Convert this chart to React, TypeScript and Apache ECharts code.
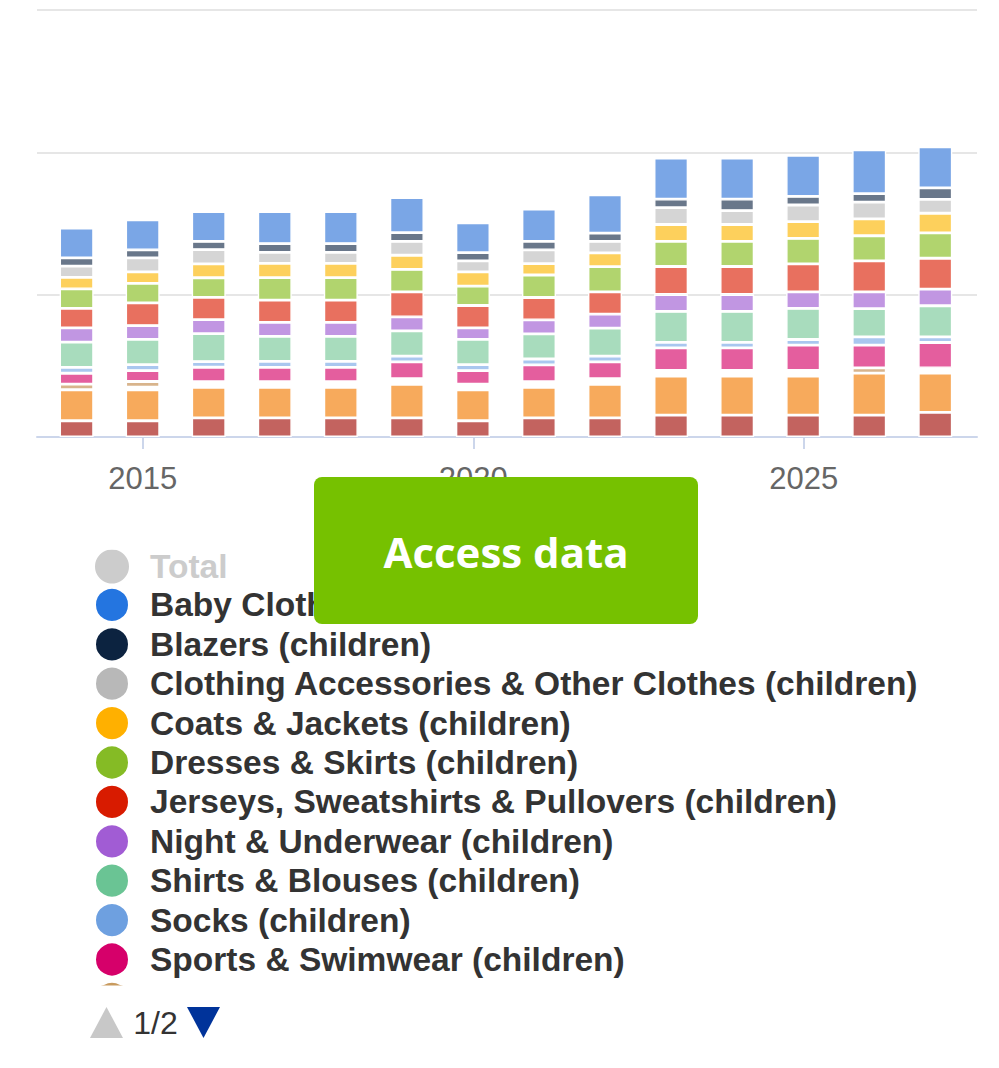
import React, { useEffect, useRef } from "react";
import * as echarts from "echarts";

const years = [2014, 2015, 2016, 2017, 2018, 2019, 2020, 2021, 2022, 2023, 2024, 2025, 2026, 2027];
const tickYears = [2015, 2020, 2025];

// Stacked segments, values (same unit as the hidden y axis)
const babyClothes = [2.08, 2.10, 2.10, 2.25, 2.25, 2.46, 2.10, 2.27, 2.68, 2.89, 2.89, 2.89, 3.08, 2.89];
const blazers = [0.59, 0.57, 0.57, 0.62, 0.62, 0.62, 0.57, 0.60, 0.59, 0.60, 0.80, 0.60, 0.60, 0.80];
const accessories = [0.78, 0.98, 1.00, 0.77, 0.77, 0.97, 0.78, 0.97, 0.80, 1.18, 0.98, 1.17, 1.18, 0.98];
const coats = [0.81, 0.81, 0.98, 1.00, 1.00, 1.00, 1.00, 0.80, 0.97, 1.18, 1.18, 1.18, 1.18, 1.38];
const dresses = [1.37, 1.37, 1.38, 1.58, 1.58, 1.57, 1.36, 1.58, 1.77, 1.77, 1.77, 1.78, 1.77, 1.78];
const jerseys = [1.38, 1.59, 1.57, 1.57, 1.57, 1.76, 1.58, 1.57, 1.57, 1.97, 1.97, 1.97, 2.18, 2.17];
const nightwear = [1.00, 0.97, 0.98, 0.98, 0.98, 0.98, 0.80, 0.98, 0.98, 1.19, 1.19, 1.17, 1.17, 1.17];
const shirts = [1.77, 1.78, 1.96, 1.76, 1.76, 1.78, 1.78, 1.77, 1.97, 2.17, 2.17, 2.18, 1.98, 2.18];
const socks = [0.41, 0.41, 0.40, 0.42, 0.42, 0.40, 0.41, 0.41, 0.40, 0.39, 0.39, 0.39, 0.59, 0.40];
const sports = [0.77, 0.77, 1.01, 1.00, 1.00, 1.18, 0.96, 1.18, 1.18, 1.58, 1.58, 1.78, 1.60, 1.78];
const suits = [0.39, 0.40, 0, 0, 0, 0, 0, 0, 0, 0, 0, 0, 0.36, 0];
const blankGap = [0, 0.19, 0.40, 0.40, 0.40, 0.40, 0.40, 0.40, 0.40, 0.40, 0.40, 0.40, 0, 0.37];
const tshirts = [2.18, 2.17, 2.14, 2.14, 2.14, 2.35, 2.17, 2.14, 2.35, 2.75, 2.75, 2.75, 2.96, 2.76];
const trousers = [1.14, 1.14, 1.35, 1.35, 1.35, 1.35, 1.14, 1.35, 1.35, 1.53, 1.53, 1.53, 1.53, 1.73];

// bottom -> top ; inLegend: shown on legend page 1 (incl. the clipped last row)
const stackSeries = [
  { name: "Trousers (children)", data: trousers, bar: "#c3635f", legend: "#a8302b", inLegend: false },
  { name: "T-shirts & Tops (children)", data: tshirts, bar: "#f7aa5c", legend: "#f28c1e", inLegend: false },
  { name: "__gap", data: blankGap, bar: "rgba(255,255,255,0)", legend: "", inLegend: false },
  { name: "Suits & Ensembles (children)", data: suits, bar: "#d8b48c", legend: "#c89a5e", inLegend: true },
  { name: "Sports & Swimwear (children)", data: sports, bar: "#e45e9e", legend: "#d6006a", inLegend: true },
  { name: "Socks (children)", data: socks, bar: "#a9c7ef", legend: "#6ea0e0", inLegend: true },
  { name: "Shirts & Blouses (children)", data: shirts, bar: "#a8dcbd", legend: "#6ac494", inLegend: true },
  { name: "Night & Underwear (children)", data: nightwear, bar: "#c196e2", legend: "#a15cd4", inLegend: true },
  { name: "Jerseys, Sweatshirts & Pullovers (children)", data: jerseys, bar: "#e8705f", legend: "#d81b00", inLegend: true },
  { name: "Dresses & Skirts (children)", data: dresses, bar: "#b1d46e", legend: "#85bb25", inLegend: true },
  { name: "Coats & Jackets (children)", data: coats, bar: "#fdd05c", legend: "#ffb000", inLegend: true },
  { name: "Clothing Accessories & Other Clothes (children)", data: accessories, bar: "#d5d5d5", legend: "#b8b8b8", inLegend: true },
  { name: "Blazers (children)", data: blazers, bar: "#69778a", legend: "#0c2340", inLegend: true },
  { name: "Baby Clothes (children)", data: babyClothes, bar: "#7aa6e6", legend: "#2475e0", inLegend: true },
];

const totals = years.map((_, i) =>
  stackSeries.filter((s) => s.name !== "__gap").reduce((acc, s) => acc + s.data[i], 0)
);

export default function App() {
  const ref = useRef<HTMLDivElement>(null);

  useEffect(() => {
    if (!ref.current) return;
    const chart = echarts.init(ref.current, null, { renderer: "svg" });
    const font = "'Liberation Sans', Arial, Helvetica, sans-serif";

    const legendData: any[] = [{ name: "Total", itemStyle: { color: "#cccccc" } }];
    [...stackSeries].reverse().forEach((s) => {
      if (s.inLegend) legendData.push({ name: s.name, itemStyle: { color: s.legend } });
    });

    const series: any[] = [
      {
        name: "Total",
        type: "line",
        xAxisIndex: 0,
        yAxisIndex: 0,
        data: totals.map((t) => Number(t.toFixed(2))),
        symbol: "none",
        lineStyle: { color: "#cccccc" },
        itemStyle: { color: "#cccccc" },
      },
      ...stackSeries.map((s) => ({
        name: s.name,
        type: "bar",
        stack: "all",
        xAxisIndex: 0,
        yAxisIndex: 0,
        barWidth: 34,
        data: s.data,
        itemStyle: { color: s.bar, borderColor: "#ffffff", borderWidth: 1.4 },
        silent: s.name === "__gap",
      })),
    ];

    chart.setOption({
      animation: false,
      backgroundColor: "#ffffff",
      grid: [
        // bars: one band per year (66.05 px)
        { left: 43.6, width: 924.7, top: 10, height: 427, containLabel: false, z: 3 },
        // axis frame: full width
        { left: 37, right: 22, top: 10, height: 427, containLabel: false },
      ],
      xAxis: [
        {
          type: "category",
          gridIndex: 0,
          data: years.map(String),
          boundaryGap: true,
          axisLine: { show: false },
          axisTick: { show: false },
          axisLabel: { show: false },
          splitLine: { show: false },
        },
        {
          type: "value",
          gridIndex: 1,
          min: 2013.4,
          max: 2027.62,
          splitLine: { show: false },
          axisLine: { show: true, lineStyle: { color: "#ccd6eb", width: 2 } },
          axisTick: {
            show: true,
            customValues: tickYears,
            length: 12,
            lineStyle: { color: "#ccd6eb", width: 2 },
          },
          axisLabel: {
            customValues: tickYears,
            formatter: (v: number) => String(v),
            fontSize: 31,
            color: "#666666",
            fontFamily: font,
            margin: 26,
          },
        },
      ],
      yAxis: [
        {
          type: "value",
          gridIndex: 0,
          min: 0,
          max: 30,
          interval: 10,
          axisLabel: { show: false },
          axisLine: { show: false },
          axisTick: { show: false },
          splitLine: { show: false },
        },
        {
          type: "value",
          gridIndex: 1,
          min: 0,
          max: 30,
          interval: 10,
          axisLabel: { show: false },
          axisLine: { show: false },
          axisTick: { show: false },
          splitLine: { show: true, lineStyle: { color: "#e6e6e6", width: 2 } },
        },
      ],
      legend: {
        type: "scroll",
        orient: "vertical",
        left: 94,
        top: 549.5,
        width: 880,
        height: 437,
        padding: 0,
        itemGap: 3.4,
        itemWidth: 66,
        itemHeight: 34,
        icon: "circle",
        inactiveColor: "#cccccc",
        selected: { Total: false },
        data: legendData,
        textStyle: { fontSize: 33.5, fontWeight: "bold", color: "#333333", fontFamily: font, lineHeight: 34 },
        pageButtonPosition: "end",
        pageButtonGap: 0,
        pageIconSize: 1,
        pageIconColor: "rgba(0,0,0,0)",
        pageIconInactiveColor: "rgba(0,0,0,0)",
        pageFormatter: "",
        pageTextStyle: { fontSize: 1, color: "rgba(0,0,0,0)" },
      },
      graphic: [
        {
          type: "rect",
          z: 100,
          shape: { x: 314, y: 477, width: 384, height: 147, r: 8 },
          style: { fill: "#76c100" },
        },
        {
          type: "text",
          z: 101,
          x: 506,
          y: 551,
          style: {
            text: "Access data",
            fill: "#ffffff",
            font: "bold 42px 'Open Sans', 'Noto Sans', sans-serif",
            align: "center",
            verticalAlign: "middle",
          },
        },
        {
          type: "polygon",
          z: 100,
          shape: { points: [[90, 1038], [106.5, 1007], [123, 1038]] },
          style: { fill: "#c8c8c8" },
        },
        {
          type: "text",
          z: 100,
          x: 155.5,
          y: 1023,
          style: {
            text: "1/2",
            fill: "#333333",
            font: "32px 'Liberation Sans', Arial, sans-serif",
            align: "center",
            verticalAlign: "middle",
          },
        },
        {
          type: "polygon",
          z: 100,
          shape: { points: [[187, 1007], [220, 1007], [203.5, 1038]] },
          style: { fill: "#00339a" },
        },
      ],
      series,
    });

    return () => chart.dispose();
  }, []);

  return (
    <div
      ref={ref}
      style={{ position: "absolute", left: 0, top: 0, width: 999, height: 1068, background: "#fff" }}
    />
  );
}
